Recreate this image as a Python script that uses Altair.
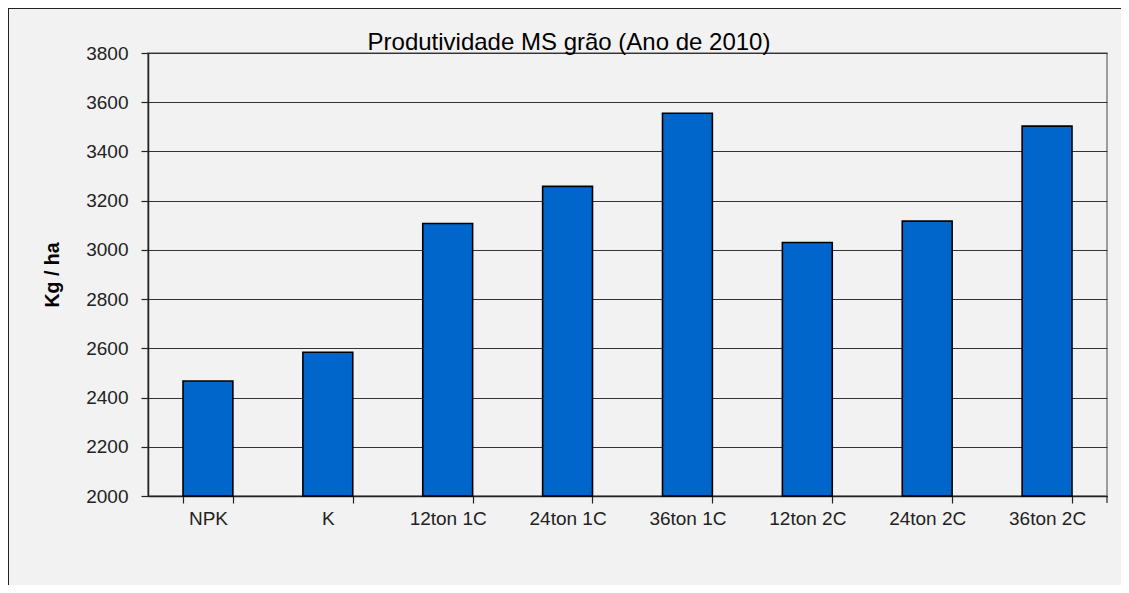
import altair as alt
import pandas as pd

categories = ["NPK", "K", "12ton 1C", "24ton 1C", "36ton 1C", "12ton 2C", "24ton 2C", "36ton 2C"]
values = [2467, 2584, 3107, 3258, 3555, 3030, 3117, 3503]
y_ticks = [2000, 2200, 2400, 2600, 2800, 3000, 3200, 3400, 3600, 3800]
title_text = ["Produtividade MS grão (Ano de 2010)"]
y_title = "Kg / ha"

FONT = "Liberation Sans"
W, H = 959, 443
PAD = {"left": 140, "top": 45, "right": 14, "bottom": 89}

df = pd.DataFrame({"cat": categories, "val": values})

bars = alt.Chart(df).mark_bar(color="#0066cc", stroke="#000000", strokeWidth=1.6).encode(
    x=alt.X("cat:N", sort=categories, title=None,
            scale=alt.Scale(paddingInner=0.584, paddingOuter=0.292),
            axis=alt.Axis(labelAngle=0, tickBand="extent", tickSize=7, labelPadding=6,
                          labelFont=FONT, labelFontSize=19, labelColor="#222222",
                          domainColor="#222222", domainWidth=1.5, tickColor="#222222",
                          tickWidth=1.2, grid=False)),
    y=alt.Y("val:Q", title=y_title,
            scale=alt.Scale(domain=[2000, 3800], zero=False, nice=False),
            axis=alt.Axis(values=y_ticks, format="d", tickSize=7, labelPadding=13,
                          labelFont=FONT, labelFontSize=19, labelColor="#222222",
                          titleFont=FONT, titleFontSize=19.5, titleFontWeight="bold",
                          titleColor="#000000", titlePadding=23,
                          domainColor="#222222", domainWidth=1.5, tickColor="#222222",
                          tickWidth=1.2, grid=True, gridColor="#333333", gridWidth=1.2)),
    y2=alt.datum(2000),
)

title = alt.Chart(pd.DataFrame({"t": title_text})).mark_text(
    font=FONT, fontSize=24, color="#000000", align="center", baseline="alphabetic"
).encode(text="t:N", x=alt.value(421), y=alt.value(-3))

frame_left = alt.Chart(pd.DataFrame({"a": [0]})).mark_rule(color="#222222", strokeWidth=2).encode(
    x=alt.value(-140), y=alt.value(-45), y2=alt.value(H + PAD["bottom"]))
frame_top = alt.Chart(pd.DataFrame({"a": [0]})).mark_rule(color="#222222", strokeWidth=2).encode(
    x=alt.value(-140), x2=alt.value(W + PAD["right"]), y=alt.value(-45))
end_tick = alt.Chart(pd.DataFrame({"a": [0]})).mark_rule(color="#222222", strokeWidth=1.2).encode(
    x=alt.value(W), y=alt.value(H), y2=alt.value(H + 7))

chart = alt.layer(bars, title, frame_left, frame_top, end_tick).properties(
    width=W, height=H, padding=PAD,
    autosize=alt.AutoSizeParams(type="none"),
    background="#f2f2f2",
).configure_view(stroke="#808080", strokeWidth=1.5, fill="#f2f2f2")

chart.save("out.html", embed_options={"renderer": "svg", "actions": False})
